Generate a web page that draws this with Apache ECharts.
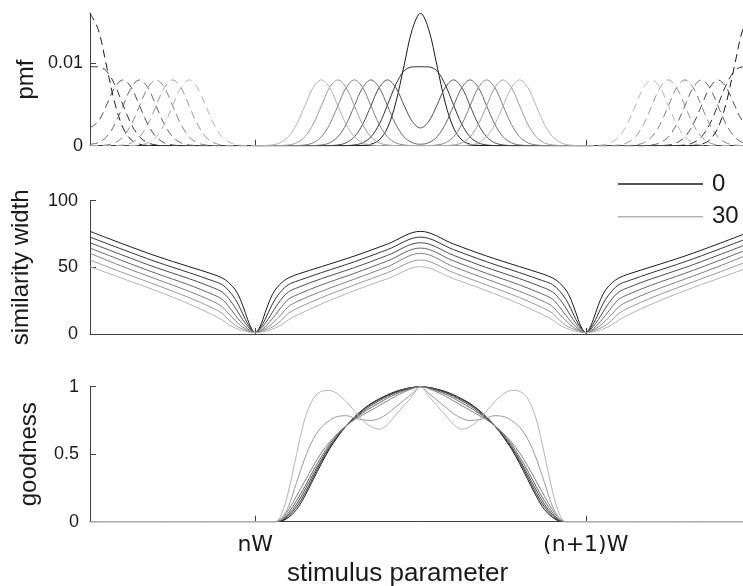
<!DOCTYPE html>
<html>
<head>
<meta charset="utf-8">
<script src="https://cdn.jsdelivr.net/npm/echarts@6/dist/echarts.min.js"></script>
<style>
  html, body { margin: 0; padding: 0; background: #fff; }
  #chart { width: 743px; height: 586px; }
</style>
</head>
<body>
<div id="chart"></div>
<script>
// stimulus positions, in units of W (0 = nW, 1 = (n+1)W)
const xTickValues = [0, 1];
const xTickLabels = ['nW', '(n+1)W'];
const pmfTicks = [0, 0.01];
const simTicks = [0, 50, 100];
const goodTicks = [0, 0.5, 1];
const levelNames = ['0', '5', '10', '15', '20', '25', '30'];
const levelColors = ['#1a1a1a', '#333333', '#4d4d4d', '#666666', '#808080', '#999999', '#b3b3b3'];

// ---- top panel: pmf ----
const xSolid = [0, 0.025, 0.05, 0.075, 0.1, 0.125, 0.15, 0.175, 0.2, 0.225, 0.25, 0.275, 0.3, 0.325, 0.35, 0.375, 0.4,
  0.425, 0.45, 0.475, 0.5, 0.525, 0.55, 0.575, 0.6, 0.625, 0.65, 0.675, 0.7, 0.725, 0.75, 0.775, 0.8, 0.825, 0.85,
  0.875, 0.9, 0.925, 0.95, 0.975, 1];
const xDashLeft = [-0.5, -0.475, -0.45, -0.425, -0.4, -0.375, -0.35, -0.325, -0.3, -0.275, -0.25, -0.225, -0.2,
  -0.175, -0.15, -0.125, -0.1, -0.075, -0.05, -0.025, 0];
const xDashRight = [1, 1.025, 1.05, 1.075, 1.1, 1.125, 1.15, 1.175, 1.2, 1.225, 1.25, 1.275, 1.3, 1.325, 1.35,
  1.375, 1.4, 1.425, 1.45, 1.475, 1.5];

const pmf0 = [0, 0, 0, 0, 0, 0, 0, 0, 0, 0, 0, 0, 0,
  0.00004, 0.00018, 0.0007, 0.00216, 0.0052, 0.0097, 0.01412, 0.0161, 0.01412, 0.0097, 0.0052, 0.00216, 0.0007, 0.00018, 0.00004,
  0, 0, 0, 0, 0, 0, 0, 0, 0, 0, 0, 0, 0];
const pmf5 = [0, 0, 0, 0, 0, 0, 0, 0, 0, 0, 0,
  0.00002, 0.00009, 0.00035, 0.00108, 0.0026, 0.00494, 0.00741, 0.00908, 0.00958, 0.0096, 0.00958, 0.00908, 0.00741,
  0.00494, 0.0026, 0.00108, 0.00035, 0.00009, 0.00002,
  0, 0, 0, 0, 0, 0, 0, 0, 0, 0, 0];
const pmf10 = [0, 0, 0, 0, 0, 0, 0, 0, 0,
  0.00002, 0.00009, 0.00035, 0.00108, 0.0026, 0.00485, 0.00706, 0.008, 0.00708, 0.00494, 0.00295, 0.00216, 0.00295,
  0.00494, 0.00708, 0.008, 0.00706, 0.00485, 0.0026, 0.00108, 0.00035, 0.00009, 0.00002,
  0, 0, 0, 0, 0, 0, 0, 0, 0];
const pmf15 = [0, 0, 0, 0, 0, 0, 0,
  0.00002, 0.00009, 0.00035, 0.00108, 0.0026, 0.00485, 0.00706, 0.008, 0.00706, 0.00485, 0.0026, 0.00108, 0.00037,
  0.00018, 0.00037, 0.00108, 0.0026, 0.00485, 0.00706, 0.008, 0.00706, 0.00485, 0.0026, 0.00108, 0.00035, 0.00009, 0.00002,
  0, 0, 0, 0, 0, 0, 0];
const pmf20 = [0, 0, 0, 0, 0,
  0.00002, 0.00009, 0.00035, 0.00108, 0.0026, 0.00485, 0.00706, 0.008, 0.00706, 0.00485, 0.0026, 0.00108, 0.00035,
  0.00009, 0.00002, 0, 0.00002, 0.00009, 0.00035, 0.00108, 0.0026, 0.00485, 0.00706, 0.008, 0.00706, 0.00485, 0.0026,
  0.00108, 0.00035, 0.00009, 0.00002,
  0, 0, 0, 0, 0];
const pmf25 = [0, 0, 0,
  0.00002, 0.00009, 0.00035, 0.00108, 0.0026, 0.00485, 0.00706, 0.008, 0.00706, 0.00485, 0.0026, 0.00108, 0.00035,
  0.00009, 0.00002, 0, 0, 0, 0, 0, 0.00002, 0.00009, 0.00035, 0.00108, 0.0026, 0.00485, 0.00706, 0.008, 0.00706,
  0.00485, 0.0026, 0.00108, 0.00035, 0.00009, 0.00002,
  0, 0, 0];
const pmf30 = [0,
  0.00002, 0.00009, 0.00035, 0.00108, 0.0026, 0.00485, 0.00706, 0.008, 0.00706, 0.00485, 0.0026, 0.00108, 0.00035,
  0.00009, 0.00002, 0, 0, 0, 0, 0, 0, 0, 0, 0, 0.00002, 0.00009, 0.00035, 0.00108, 0.0026, 0.00485, 0.00706, 0.008,
  0.00706, 0.00485, 0.0026, 0.00108, 0.00035, 0.00009, 0.00002,
  0];

// ---- middle panel: similarity width ----
const xSim = [-0.5, -0.4, -0.3, -0.2, -0.13, -0.1, -0.08, -0.06, -0.045, -0.03, -0.015, 0,
  0.015, 0.03, 0.045, 0.06, 0.08, 0.1, 0.13, 0.2, 0.3, 0.4, 0.5,
  0.6, 0.7, 0.8, 0.87, 0.9, 0.92, 0.94, 0.955, 0.97, 0.985, 1,
  1.015, 1.03, 1.045, 1.06, 1.08, 1.1, 1.13, 1.2, 1.3, 1.4, 1.5];
const sim0 = [77, 67.5, 58.5, 50.5, 45, 42, 38.5, 33, 26, 16, 6, 1,
  6, 16, 26, 33, 38.5, 42, 45, 50.5, 58.5, 67.5, 77,
  67.5, 58.5, 50.5, 45, 42, 38.5, 33, 26, 16, 6, 1,
  6, 16, 26, 33, 38.5, 42, 45, 50.5, 58.5, 67.5, 77];
const sim5 = [72.7, 63.3, 54.2, 46, 40, 37, 32.5, 26, 19, 11, 4.5, 1,
  4.5, 11, 19, 26, 32.5, 37, 40, 46, 54.2, 63.3, 72.7,
  63.3, 54.2, 46, 40, 37, 32.5, 26, 19, 11, 4.5, 1,
  4.5, 11, 19, 26, 32.5, 37, 40, 46, 54.2, 63.3, 72.7];
const sim10 = [68.5, 59, 49.8, 41.5, 35, 31.5, 26.5, 19.5, 13.5, 8, 3.5, 1,
  3.5, 8, 13.5, 19.5, 26.5, 31.5, 35, 41.5, 49.8, 59, 68.5,
  59, 49.8, 41.5, 35, 31.5, 26.5, 19.5, 13.5, 8, 3.5, 1,
  3.5, 8, 13.5, 19.5, 26.5, 31.5, 35, 41.5, 49.8, 59, 68.5];
const sim15 = [64.5, 54.8, 45.5, 36.8, 29.8, 26, 20.5, 14, 9.5, 5.5, 2.5, 1,
  2.5, 5.5, 9.5, 14, 20.5, 26, 29.8, 36.8, 45.5, 54.8, 64.5,
  54.8, 45.5, 36.8, 29.8, 26, 20.5, 14, 9.5, 5.5, 2.5, 1,
  2.5, 5.5, 9.5, 14, 20.5, 26, 29.8, 36.8, 45.5, 54.8, 64.5];
const sim20 = [60.5, 50.5, 41.2, 32, 24.7, 20.5, 15, 10, 6.5, 4, 2, 1,
  2, 4, 6.5, 10, 15, 20.5, 24.7, 32, 41.2, 50.5, 60.5,
  50.5, 41.2, 32, 24.7, 20.5, 15, 10, 6.5, 4, 2, 1,
  2, 4, 6.5, 10, 15, 20.5, 24.7, 32, 41.2, 50.5, 60.5];
const sim25 = [55.5, 46, 36.8, 27.3, 19.6, 15.5, 10.5, 6.5, 4.5, 3, 1.5, 1,
  1.5, 3, 4.5, 6.5, 10.5, 15.5, 19.6, 27.3, 36.8, 46, 55.5,
  46, 36.8, 27.3, 19.6, 15.5, 10.5, 6.5, 4.5, 3, 1.5, 1,
  1.5, 3, 4.5, 6.5, 10.5, 15.5, 19.6, 27.3, 36.8, 46, 55.5];
const sim30 = [50.5, 41.5, 32.5, 22.5, 14.5, 10.5, 7, 4.5, 3, 2, 1.3, 1,
  1.3, 2, 3, 4.5, 7, 10.5, 14.5, 22.5, 32.5, 41.5, 50.5,
  41.5, 32.5, 22.5, 14.5, 10.5, 7, 4.5, 3, 2, 1.3, 1,
  1.3, 2, 3, 4.5, 7, 10.5, 14.5, 22.5, 32.5, 41.5, 50.5];

// ---- bottom panel: goodness ----
const xGood = [-0.5, 0, 0.06, 0.08, 0.1, 0.125, 0.15, 0.175, 0.2, 0.225, 0.25, 0.275, 0.3, 0.325, 0.35, 0.375, 0.4,
  0.425, 0.45, 0.475, 0.5, 0.525, 0.55, 0.575, 0.6, 0.625, 0.65, 0.675, 0.7, 0.725, 0.75, 0.775, 0.8, 0.825, 0.85,
  0.875, 0.9, 0.92, 0.94, 1, 1.5];
const good0 = [0, 0, 0, 0.005, 0.03, 0.09, 0.19, 0.31, 0.43, 0.54, 0.63, 0.71, 0.775, 0.83, 0.875, 0.91, 0.94, 0.965,
  0.982, 0.995, 1, 0.995, 0.982, 0.965, 0.94, 0.91, 0.875, 0.83, 0.775, 0.71, 0.63, 0.54, 0.43, 0.31, 0.19, 0.09,
  0.03, 0.005, 0, 0, 0];
const good5 = [0, 0, 0, 0.007, 0.04, 0.11, 0.21, 0.33, 0.445, 0.55, 0.635, 0.71, 0.77, 0.825, 0.87, 0.905, 0.935, 0.96,
  0.98, 0.994, 1, 0.994, 0.98, 0.96, 0.935, 0.905, 0.87, 0.825, 0.77, 0.71, 0.635, 0.55, 0.445, 0.33, 0.21, 0.11,
  0.04, 0.007, 0, 0, 0];
const good10 = [0, 0, 0, 0.01, 0.05, 0.13, 0.235, 0.35, 0.46, 0.56, 0.64, 0.71, 0.765, 0.815, 0.86, 0.895, 0.928, 0.955,
  0.977, 0.993, 1, 0.993, 0.977, 0.955, 0.928, 0.895, 0.86, 0.815, 0.765, 0.71, 0.64, 0.56, 0.46, 0.35, 0.235, 0.13,
  0.05, 0.01, 0, 0, 0];
const good15 = [0, 0, 0, 0.013, 0.065, 0.155, 0.26, 0.375, 0.48, 0.575, 0.65, 0.71, 0.76, 0.805, 0.845, 0.88, 0.915, 0.945,
  0.97, 0.99, 1, 0.99, 0.97, 0.945, 0.915, 0.88, 0.845, 0.805, 0.76, 0.71, 0.65, 0.575, 0.48, 0.375, 0.26, 0.155,
  0.065, 0.013, 0, 0, 0];
const good20 = [0, 0, 0, 0.02, 0.085, 0.19, 0.3, 0.41, 0.51, 0.59, 0.655, 0.71, 0.755, 0.79, 0.825, 0.86, 0.895, 0.93,
  0.96, 0.985, 1, 0.985, 0.96, 0.93, 0.895, 0.86, 0.825, 0.79, 0.755, 0.71, 0.655, 0.59, 0.51, 0.41, 0.3, 0.19,
  0.085, 0.02, 0, 0, 0];
const good25 = [0, 0, 0, 0.03, 0.11, 0.29, 0.47, 0.61, 0.7, 0.75, 0.78, 0.785, 0.77, 0.755, 0.75, 0.765, 0.8, 0.85,
  0.9, 0.95, 1, 0.95, 0.9, 0.85, 0.8, 0.765, 0.75, 0.755, 0.77, 0.785, 0.78, 0.75, 0.7, 0.61, 0.47, 0.29,
  0.11, 0.03, 0, 0, 0];
const good30 = [0, 0, 0, 0.06, 0.22, 0.5, 0.76, 0.91, 0.965, 0.972, 0.945, 0.89, 0.82, 0.75, 0.705, 0.685, 0.72, 0.79,
  0.86, 0.93, 1, 0.93, 0.86, 0.79, 0.72, 0.685, 0.705, 0.75, 0.82, 0.89, 0.945, 0.972, 0.965, 0.91, 0.76, 0.5,
  0.22, 0.06, 0, 0, 0];

const pmfLevels = [pmf0, pmf5, pmf10, pmf15, pmf20, pmf25, pmf30];
const simLevels = [sim0, sim5, sim10, sim15, sim20, sim25, sim30];
const goodLevels = [good0, good5, good10, good15, good20, good25, good30];

const axisColor = '#404040';
const textColor = '#1a1a1a';
const sansFont = 'Liberation Sans, Arial, sans-serif';

const pair = (xs, ys) => xs.map((x, i) => [x, ys[i]]);

function lineSeries(name, xi, data, color, dashed) {
  return {
    name: name,
    type: 'line',
    xAxisIndex: xi,
    yAxisIndex: xi,
    data: data,
    symbol: 'none',
    smooth: 0.35,
    silent: true,
    lineStyle: { color: color, width: 1, type: dashed ? [8, 5] : 'solid' },
    itemStyle: { color: color }
  };
}

function xAxisFor(idx) {
  return {
    type: 'value',
    gridIndex: idx,
    min: -0.5,
    max: 1.5,
    axisLine: { onZero: false, lineStyle: { color: axisColor, width: 1 } },
    axisTick: { show: true, inside: true, length: 6, customValues: xTickValues, lineStyle: { color: axisColor } },
    axisLabel: {
      show: idx === 2,
      customValues: xTickValues,
      formatter: v => xTickLabels[xTickValues.indexOf(v)],
      margin: 13,
      fontSize: 22,
      fontFamily: 'DejaVu Sans, sans-serif',
      color: textColor
    },
    splitLine: { show: false },
    name: idx === 2 ? 'stimulus parameter' : '',
    nameLocation: 'middle',
    nameGap: 39,
    nameMoveOverlap: false,
    // the label sits a little left of the axis centre, as in the original figure
    nameTextStyle: { fontSize: 26, fontFamily: sansFont, color: textColor, padding: [0, 46, 0, 0] }
  };
}

function yAxisFor(idx, name, max, ticks, nameGap, labelMargin) {
  return {
    type: 'value',
    gridIndex: idx,
    min: 0,
    max: max,
    name: name,
    nameLocation: 'middle',
    nameGap: nameGap,
    nameMoveOverlap: false,
    nameTextStyle: { fontSize: 24, fontFamily: sansFont, color: textColor },
    axisLine: { show: true, onZero: false, lineStyle: { color: axisColor, width: 1 } },
    axisTick: { show: true, inside: true, length: 6, customValues: ticks, lineStyle: { color: axisColor } },
    axisLabel: { customValues: ticks, margin: labelMargin, fontSize: 18, fontFamily: sansFont, color: textColor },
    splitLine: { show: false }
  };
}

const series = [];
pmfLevels.forEach((ys, k) => {
  series.push(lineSeries('pmf ' + levelNames[k], 0, pair(xSolid, ys), levelColors[k], false));
  series.push(lineSeries('pmf left ' + levelNames[k], 0, pair(xDashLeft, ys.slice(20)), levelColors[k], true));
  series.push(lineSeries('pmf right ' + levelNames[k], 0, pair(xDashRight, ys.slice(0, 21)), levelColors[k], true));
});
simLevels.forEach((ys, k) => {
  series.push(lineSeries(levelNames[k], 1, pair(xSim, ys), levelColors[k], false));
});
goodLevels.forEach((ys, k) => {
  series.push(lineSeries('goodness ' + levelNames[k], 2, pair(xGood, ys), levelColors[k], false));
});

const chart = echarts.init(document.getElementById('chart'), null, { renderer: 'canvas' });
chart.setOption({
  animation: false,
  backgroundColor: '#ffffff',
  grid: [
    { left: 90, width: 661, top: 13.3, height: 132.4, outerBoundsMode: 'none' },
    { left: 90, width: 661, top: 200.7, height: 133.3, outerBoundsMode: 'none' },
    { left: 90, width: 661, top: 386.7, height: 135, outerBoundsMode: 'none' }
  ],
  xAxis: [xAxisFor(0), xAxisFor(1), xAxisFor(2)],
  yAxis: [
    yAxisFor(0, 'pmf', 0.0161, pmfTicks, 52, 7),
    yAxisFor(1, 'similarity width', 100, simTicks, 57, 12),
    yAxisFor(2, 'goodness', 1, goodTicks, 49, 11)
  ],
  legend: {
    data: ['0', '30'],
    orient: 'vertical',
    left: 618,
    top: 172,
    padding: 0,
    icon: 'rect',
    itemWidth: 85,
    itemHeight: 1.6,
    itemGap: 8.7,
    selectedMode: false,
    textStyle: { fontSize: 24, lineHeight: 24, fontFamily: sansFont, color: textColor, padding: [0, 0, 0, 4] }
  },
  series: series
});
</script>
</body>
</html>
